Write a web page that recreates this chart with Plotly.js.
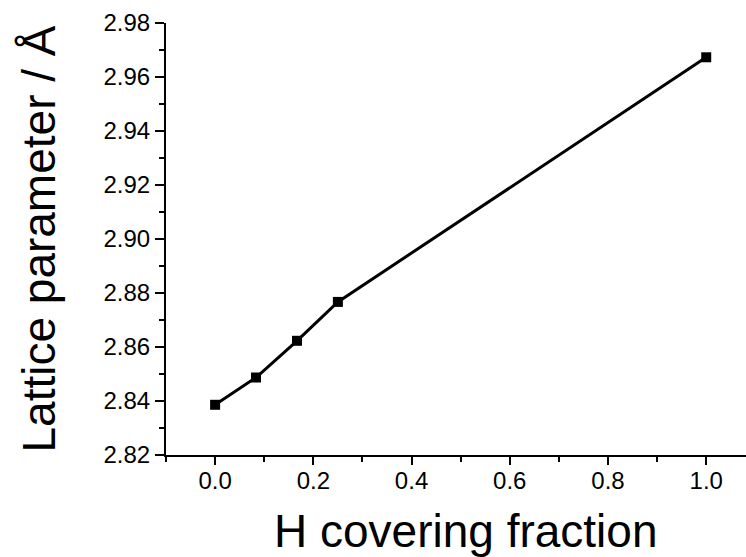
<!DOCTYPE html>
<html>
<head>
<meta charset="utf-8">
<script src="https://cdn.plot.ly/plotly-3.0.1.min.js"></script>
<style>html,body{margin:0;padding:0;background:#fff;}#chart{width:746px;height:557px;}</style>
</head>
<body>
<div id="chart"></div>
<script>
const coverage = [0, 0.0833, 0.1667, 0.25, 1.0];
const latticeParam = [2.8386, 2.8487, 2.8623, 2.8767, 2.9673];
const xTitle = 'H covering fraction';
const yTitle = 'Lattice parameter / Å';

const font = 'Arial, "Liberation Sans", Helvetica, sans-serif';

Plotly.newPlot('chart', [{
  x: coverage, y: latticeParam, type: 'scatter', mode: 'lines+markers',
  line: {color: '#000', width: 3},
  marker: {symbol: 'square', size: 10, color: '#000'},
  showlegend: false
}], {
  width: 746, height: 557,
  margin: {l: 166, r: 0, t: 23, b: 102},
  paper_bgcolor: '#fff', plot_bgcolor: '#fff',
  font: {family: font, color: '#000'},
  xaxis: {
    range: [-0.1, 1.081], tick0: 0, dtick: 0.2, tickformat: '.1f',
    ticks: 'outside', ticklen: 8, tickwidth: 2, tickcolor: '#000',
    minor: {dtick: 0.1, ticks: 'outside', ticklen: 5, tickwidth: 2, tickcolor: '#000', showgrid: false},
    showline: true, linewidth: 2, linecolor: '#000', showgrid: false, zeroline: false,
    tickfont: {size: 24, family: font}, ticklabelstandoff: -5
  },
  yaxis: {
    range: [2.82, 2.98], tick0: 2.82, dtick: 0.02, tickformat: '.2f',
    ticks: 'outside', ticklen: 9, tickwidth: 2, tickcolor: '#000',
    minor: {dtick: 0.01, ticks: 'outside', ticklen: 5, tickwidth: 2, tickcolor: '#000', showgrid: false},
    showline: true, linewidth: 2, linecolor: '#000', showgrid: false, zeroline: false,
    tickfont: {size: 24, family: font}
  },
  annotations: [
    {text: xTitle, xref: 'paper', yref: 'paper', x: 0.5164, y: -0.175, xanchor: 'center', yanchor: 'middle',
     showarrow: false, font: {size: 46, family: font, color: '#000'}},
    {text: yTitle, xref: 'paper', yref: 'paper', x: -0.2198, y: 0.5, xanchor: 'center', yanchor: 'middle',
     textangle: -90, showarrow: false, font: {size: 46, family: font, color: '#000'}}
  ]
}, {staticPlot: true});
</script>
</body>
</html>
